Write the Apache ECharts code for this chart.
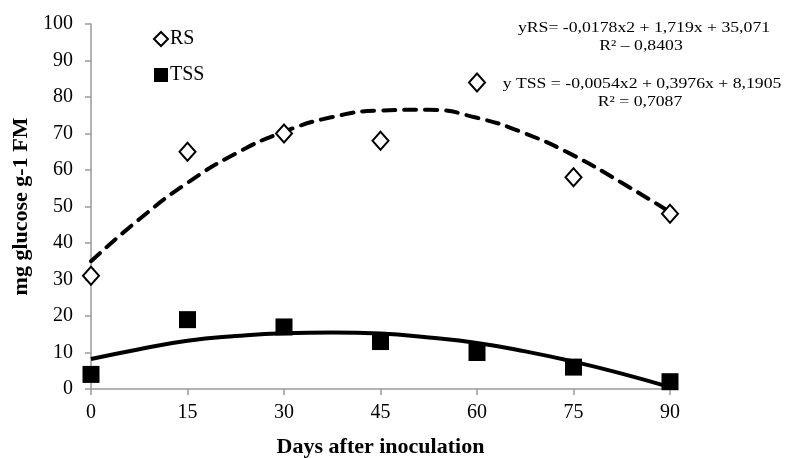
<!DOCTYPE html>
<html>
<head>
<meta charset="utf-8">
<script src="https://cdn.jsdelivr.net/npm/echarts@6/dist/echarts.min.js"></script>
<style>
  html, body { margin: 0; padding: 0; background: #fff; }
  #chart { width: 790px; height: 458px; }
</style>
</head>
<body>
<div id="chart"></div>
<script>
  // days after inoculation
  var days = [0, 15, 30, 45, 60, 75, 90];
  var rsValues = [31, 65, 70, 68, 84, 58, 48];
  var tssValues = [4, 19, 17, 13, 10, 6, 2];

  // fitted trend curves
  var trendDays = [0, 7.5, 15, 22.5, 30, 37.5, 45, 52.5, 60, 67.5, 75, 82.5, 90];
  var rsTrend = [35, 46.5, 56.5, 64.5, 70.5, 74.5, 76.3, 76.5, 74.3, 70, 64, 56.5, 48.5];
  var tssTrend = [8.2, 10.9, 13.2, 14.5, 15.3, 15.5, 15.2, 14.1, 12.6, 10.3, 7.5, 4.2, 0.5];

  var yTicks = [0, 10, 20, 30, 40, 50, 60, 70, 80, 90, 100];
  var xTicks = [0, 15, 30, 45, 60, 75, 90];

  var serif = '"Liberation Serif", "DejaVu Serif", serif';

  function pairs(xs, ys) {
    var out = [];
    for (var i = 0; i < xs.length; i++) out.push([xs[i], ys[i]]);
    return out;
  }

  // equation labels, a little stretched sideways like in the source figure
  function eq(text, x, y) {
    return {
      type: 'text', x: x, y: y, scaleX: 1.18,
      style: { text: text, font: '15px ' + serif, fill: '#000', align: 'center', verticalAlign: 'middle' }
    };
  }

  var myChart = echarts.init(document.getElementById('chart'));

  var option = {
    backgroundColor: '#fff',
    animation: false,
    grid: { left: 91, right: 120, top: 24, bottom: 69, outerBoundsMode: 'none' },
    legend: {
      data: ['RS', 'TSS'],
      orient: 'vertical',
      left: 148,
      top: 24,
      itemGap: 16,
      itemWidth: 14,
      itemHeight: 14,
      textStyle: { fontFamily: serif, fontSize: 20, color: '#000', padding: [0, 0, 0, -3] }
    },
    xAxis: {
      type: 'value',
      min: xTicks[0],
      max: xTicks[xTicks.length - 1],
      interval: 15,
      name: 'Days after inoculation',
      nameLocation: 'middle',
      nameGap: 47,
      nameTextStyle: { fontFamily: serif, fontSize: 22, fontWeight: 'bold', color: '#000' },
      axisLine: { lineStyle: { color: '#9a9a9a', width: 1.5 } },
      axisTick: { show: true, length: 6, lineStyle: { color: '#9a9a9a', width: 1.5 } },
      axisLabel: { fontFamily: serif, fontSize: 20, color: '#000', margin: 14 },
      splitLine: { show: false }
    },
    yAxis: {
      type: 'value',
      min: yTicks[0],
      max: yTicks[yTicks.length - 1],
      interval: 10,
      name: 'mg glucose g-1 FM',
      nameLocation: 'middle',
      nameGap: 53,
      nameTextStyle: { fontFamily: serif, fontSize: 22, fontWeight: 'bold', color: '#000' },
      axisLine: { show: true, lineStyle: { color: '#9a9a9a', width: 1.5 } },
      axisTick: { show: true, length: 6, lineStyle: { color: '#9a9a9a', width: 1.5 } },
      axisLabel: { fontFamily: serif, fontSize: 20, color: '#000', margin: 18 },
      splitLine: { show: false }
    },
    series: [
      {
        name: 'RS fit',
        type: 'line',
        data: pairs(trendDays, rsTrend),
        smooth: true,
        showSymbol: false,
        lineStyle: { color: '#000', width: 4, type: [12, 9], cap: 'round' },
        z: 1
      },
      {
        name: 'TSS fit',
        type: 'line',
        data: pairs(trendDays, tssTrend),
        smooth: true,
        showSymbol: false,
        lineStyle: { color: '#000', width: 4 },
        z: 1
      },
      {
        name: 'RS',
        type: 'scatter',
        data: pairs(days, rsValues),
        symbol: 'diamond',
        symbolSize: [16, 18],
        itemStyle: { color: '#fff', borderColor: '#000', borderWidth: 2, opacity: 1 },
        clip: false,
        z: 3
      },
      {
        name: 'TSS',
        type: 'scatter',
        data: pairs(days, tssValues),
        symbol: 'rect',
        symbolSize: 17,
        itemStyle: { color: '#000', opacity: 1 },
        clip: false,
        z: 3
      }
    ],
    graphic: [
      eq('yRS= -0,0178x2 + 1,719x + 35,071', 644, 28),
      eq('R² – 0,8403', 641, 46),
      eq('y TSS = -0,0054x2 + 0,3976x + 8,1905', 642, 84),
      eq('R² = 0,7087', 640, 102)
    ]
  };

  myChart.setOption(option);
</script>
</body>
</html>
